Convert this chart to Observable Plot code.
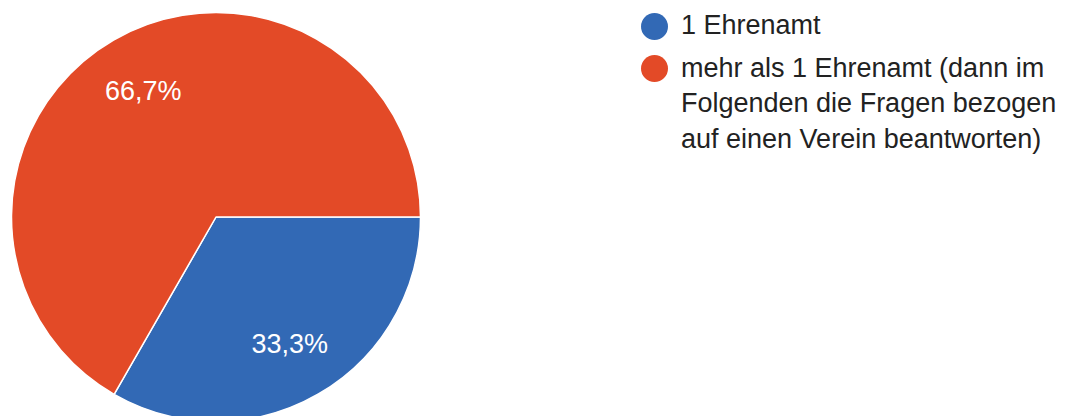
<!DOCTYPE html>
<html>
<head>
<meta charset="utf-8">
<script src="https://cdn.jsdelivr.net/npm/d3@7"></script>
<script src="https://cdn.jsdelivr.net/npm/@observablehq/plot@0.6"></script>
<style>
  html, body { margin: 0; padding: 0; background: #fff; }
  #wrap { position: relative; width: 1076px; height: 416px; overflow: hidden; font-family: "Liberation Sans", Arial, Helvetica, sans-serif; }
  #chart { position: absolute; left: 0; top: 0; }
  #legend { position: absolute; left: 641px; top: 8px; color: #222; font-size: 27px; line-height: 35.5px; white-space: nowrap; }
  .item { display: flex; align-items: flex-start; margin-bottom: 7px; }
  .sw { width: 27px; height: 27px; border-radius: 50%; flex: none; margin-top: 4.5px; margin-right: 13px; }
</style>
</head>
<body>
<div id="wrap">
  <div id="chart"></div>
  <div id="legend"></div>
</div>
<script>
const categories = ["1 Ehrenamt", "mehr als 1 Ehrenamt (dann im Folgenden die Fragen bezogen auf einen Verein beantworten)"];
const legendLines = [["1 Ehrenamt"], ["mehr als 1 Ehrenamt (dann im", "Folgenden die Fragen bezogen", "auf einen Verein beantworten)"]];
const shares = [33.3, 66.7];
const shareLabels = ["33,3%", "66,7%"];
const colors = ["#3269B5", "#E34A27"];

const data = categories.map((c, i) => ({category: c, share: shares[i], label: shareLabels[i]}));

const pie = d3.pie().sort(null).value(d => d.share)
  .startAngle(Math.PI / 2).endAngle(Math.PI / 2 + 2 * Math.PI);
const arcs = pie(data);
const labelData = arcs.map(a => {
  const mid = (a.startAngle + a.endAngle) / 2;
  return {label: a.data.label, lx: 0.715 * Math.sin(mid), ly: 0.715 * Math.cos(mid)};
});

function pieSlices(index, scales, values, dimensions, context) {
  const cx = scales.x(0), cy = scales.y(0), r = scales.x(1) - cx;
  const arc = d3.arc().innerRadius(0).outerRadius(r);
  const g = d3.create("svg:g").attr("transform", `translate(${cx},${cy})`);
  g.selectAll("path").data(arcs).join("path")
    .attr("d", arc)
    .attr("fill", d => scales.color(d.data.category))
    .attr("stroke", "white")
    .attr("stroke-width", 1.5)
    .attr("stroke-linejoin", "round");
  return g.node();
}

const plot = Plot.plot({
  width: 430,
  height: 416,
  margin: 0,
  style: {fontFamily: '"Liberation Sans", Arial, Helvetica, sans-serif', background: "white", overflow: "hidden"},
  x: {domain: [-1, 1], range: [11.5, 420.5], axis: null},
  y: {domain: [-1, 1], range: [421.5, 12.5], axis: null},
  color: {domain: categories, range: colors},
  marks: [
    Plot.dot(data, {x: () => 0, y: () => 0, fill: "category", r: 0}),
    pieSlices,
    Plot.text(labelData, {x: "lx", y: "ly", text: "label", fill: "white", fontSize: 27})
  ]
});
document.getElementById("chart").appendChild(plot);

const colorScale = plot.scale("color");
const legend = d3.select("#legend");
colorScale.domain.forEach((c, i) => {
  const item = legend.append("div").attr("class", "item");
  item.append("div").attr("class", "sw").style("background", colorScale.range[i]);
  item.append("div").html(legendLines[i].join("<br>"));
});
</script>
</body>
</html>
